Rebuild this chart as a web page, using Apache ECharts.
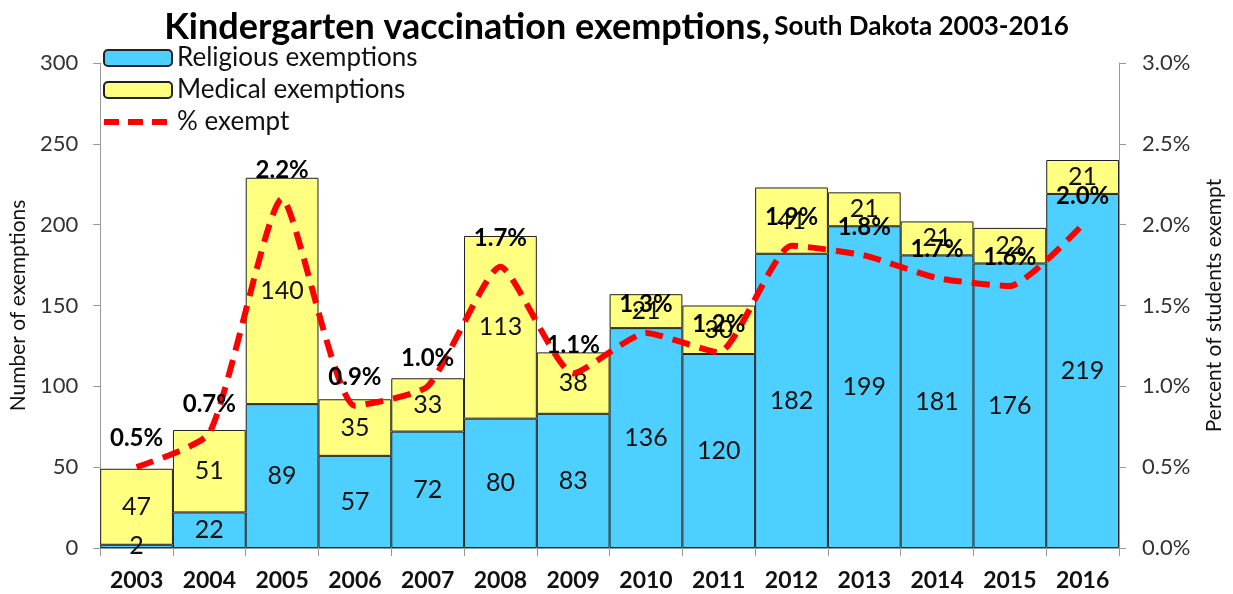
<!DOCTYPE html>
<html><head><meta charset="utf-8">
<script src="https://cdn.jsdelivr.net/npm/echarts@6/dist/echarts.min.js"></script>
<style>html,body{margin:0;padding:0;background:#fff}#c{width:1233px;height:594px}</style>
</head><body><div id="c"></div>
<script>
const years = ['2003','2004','2005','2006','2007','2008','2009','2010','2011','2012','2013','2014','2015','2016'];
const religious = [2,22,89,57,72,80,83,136,120,182,199,181,176,219];
const medical = [47,51,140,35,33,113,38,21,30,41,21,21,22,21];
const pctExempt = [0.5,0.71,2.16,0.88,1.0,1.74,1.08,1.33,1.21,1.87,1.81,1.67,1.62,2.0];
const leftTicks = {min:0,max:300,interval:50};
const rightTicks = {min:0,max:3,interval:0.5};

const FONT = 'Lato';
const chart = echarts.init(document.getElementById('c'));
chart.setOption({
  animation:false,
  textStyle:{fontFamily:FONT},
  title:{
    text:'{a|Kindergarten vaccination exemptions,} {b|South Dakota 2003-2016}',
    left:'center', top:4,
    textStyle:{rich:{
      a:{fontFamily:FONT,fontSize:36,fontWeight:'bold',color:'#000'},
      b:{fontFamily:FONT,fontSize:26,fontWeight:'bold',color:'#000'}
    }}
  },
  legend:{
    orient:'vertical', left:96, top:40, itemGap:6,
    itemWidth:68, itemHeight:16,
    textStyle:{fontFamily:FONT,fontSize:26,color:'#111'},
    data:['Religious exemptions','Medical exemptions',
      {name:'% exempt',itemStyle:{color:'rgba(0,0,0,0)',borderWidth:0},lineStyle:{width:6,type:[15,9]}}]
  },
  grid:{left:91,right:100,top:63,bottom:46},
  xAxis:{
    type:'category', data:years,
    axisLine:{lineStyle:{color:'#999'}},
    axisTick:{show:true,length:8,lineStyle:{color:'#999'}},
    axisLabel:{fontFamily:FONT,fontSize:23,fontWeight:'bold',color:'#111',margin:21}
  },
  yAxis:[{
    type:'value', ...leftTicks,
    name:'Number of exemptions', nameLocation:'middle', nameRotate:90, nameGap:67,
    nameTextStyle:{fontFamily:FONT,fontSize:21,color:'#111'},
    axisLine:{show:true,lineStyle:{color:'#999'}},
    axisTick:{show:true,length:7,lineStyle:{color:'#999'}},
    splitLine:{show:false},
    axisLabel:{fontFamily:FONT,fontSize:22,color:'#333',margin:22}
  },{
    type:'value', ...rightTicks, position:'right',
    name:'Percent of students exempt', nameLocation:'middle', nameRotate:90, nameGap:85,
    nameTextStyle:{fontFamily:FONT,fontSize:21,color:'#111'},
    axisLine:{show:true,lineStyle:{color:'#999'}},
    axisTick:{show:true,length:7,lineStyle:{color:'#999'}},
    splitLine:{show:false},
    axisLabel:{fontFamily:FONT,fontSize:22,color:'#333',margin:23,formatter:v=>v.toFixed(1)+'%'}
  }],
  series:[{
    name:'Religious exemptions', type:'bar', stack:'s', data:religious,
    barCategoryGap:'0%',
    itemStyle:{color:'#4DCFFF',borderColor:'#222',borderWidth:1},
    label:{show:true,position:'inside',fontFamily:FONT,fontSize:25,color:'#111'}
  },{
    name:'Medical exemptions', type:'bar', stack:'s', data:medical,
    barCategoryGap:'0%',
    itemStyle:{color:'#FFFF80',borderColor:'#222',borderWidth:1},
    label:{show:true,position:'inside',fontFamily:FONT,fontSize:25,color:'#111'}
  },{
    name:'% exempt', type:'line', yAxisIndex:1, data:pctExempt,
    smooth:0.18, showSymbol:true, symbol:'circle', symbolSize:1,
    itemStyle:{color:'rgba(255,0,0,0)'},
    lineStyle:{color:'#FF0000',width:6,type:[18,10]},
    label:{show:true,position:'top',distance:16,fontFamily:FONT,fontSize:24,fontWeight:'bold',color:'#000',
      formatter:p=>p.value.toFixed(1)+'%'},
    z:5
  }]
});
</script></body></html>
